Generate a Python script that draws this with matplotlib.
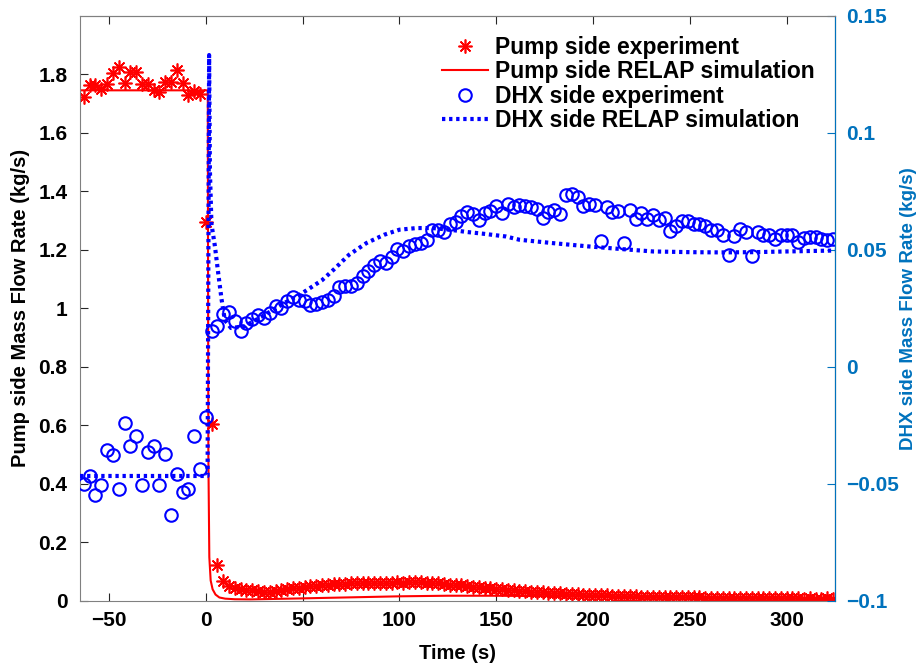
import numpy as np
import matplotlib.pyplot as plt

plt.rcParams['font.family'] = ['Liberation Sans', 'DejaVu Sans']
plt.rcParams['font.weight'] = 'bold'
plt.rcParams['axes.labelweight'] = 'bold'

# Pump side experiment (left axis, kg/s), samples every 3 s
pump_t_pre = np.arange(-63, 0, 3)
pump_pre = [1.721, 1.763, 1.763, 1.749, 1.767, 1.804, 1.826, 1.770, 1.806, 1.806,
            1.767, 1.767, 1.746, 1.738, 1.772, 1.772, 1.815, 1.770, 1.730, 1.744, 1.733]
pump_t_post = np.arange(0, 325, 3)
pump_post = [1.294, 0.606, 0.123, 0.070, 0.050, 0.043, 0.040, 0.038, 0.036, 0.033,
             0.030, 0.032, 0.034, 0.037, 0.040, 0.043, 0.045, 0.048, 0.050, 0.052,
             0.054, 0.055, 0.057, 0.058, 0.059, 0.060, 0.061, 0.061, 0.062, 0.063,
             0.063, 0.062, 0.063, 0.064, 0.063, 0.065, 0.066, 0.064, 0.063, 0.061,
             0.060, 0.058, 0.056, 0.055, 0.053, 0.051, 0.049, 0.047, 0.045, 0.043,
             0.041, 0.040, 0.038, 0.036, 0.035, 0.033, 0.032, 0.031, 0.030, 0.028,
             0.027, 0.026, 0.025, 0.024, 0.023, 0.022, 0.021, 0.020, 0.020, 0.019,
             0.018, 0.018, 0.017, 0.016, 0.016, 0.015, 0.015, 0.014, 0.014, 0.013,
             0.013, 0.013, 0.012, 0.012, 0.012, 0.012, 0.011, 0.011, 0.011, 0.011,
             0.011, 0.010, 0.010, 0.010, 0.010, 0.010, 0.010, 0.009, 0.010, 0.009,
             0.009, 0.009, 0.009, 0.008, 0.009, 0.008, 0.008, 0.009, 0.008]

# Pump side RELAP simulation
pump_sim_t = [-65, 1.0, 1.3, 1.8, 2.5, 3.5, 5, 7, 10, 15, 23, 35, 50, 75, 100, 125,
              150, 200, 250, 300, 325]
pump_sim = [1.745, 1.745, 0.5, 0.15, 0.07, 0.04, 0.022, 0.012, 0.008, 0.006, 0.0055,
            0.007, 0.009, 0.0125, 0.016, 0.018, 0.018, 0.015, 0.012, 0.009, 0.008]

# DHX side experiment (right axis, kg/s)
dhx_t = np.arange(-63, 325, 3)
dhx_exp = [-0.0499, -0.0467, -0.0549, -0.0503, -0.0353, -0.0378, -0.0520, -0.0239,
           -0.0339, -0.0296, -0.0506, -0.0363, -0.0336, -0.0503, -0.0374, -0.0631,
           -0.0456, -0.0535, -0.0520, -0.0296, -0.0438, -0.0215,
           0.0152, 0.0173, 0.0227, 0.0233, 0.0195, 0.0152, 0.0188, 0.0205, 0.0223,
           0.0209, 0.0230, 0.0259, 0.0252, 0.0280, 0.0299, 0.0287, 0.0280, 0.0266,
           0.0270, 0.0276, 0.0287, 0.0301, 0.0341, 0.0344, 0.0347, 0.0358, 0.0387,
           0.0408, 0.0436, 0.0451, 0.0444, 0.0469, 0.0503, 0.0493, 0.0515, 0.0526,
           0.0529, 0.0540, 0.0586, 0.0583, 0.0574, 0.0611, 0.0617, 0.0646, 0.0660,
           0.0654, 0.0628, 0.0657, 0.0664, 0.0688, 0.0657, 0.0697, 0.0685, 0.0692,
           0.0688, 0.0685, 0.0674, 0.0636, 0.0660, 0.0671, 0.0654, 0.0735, 0.0739,
           0.0725, 0.0688, 0.0697, 0.0692, 0.0536, 0.0683, 0.0660, 0.0664, 0.0529,
           0.0671, 0.0633, 0.0657, 0.0631, 0.0650, 0.0628, 0.0636, 0.0579, 0.0603,
           0.0625, 0.0621, 0.0610, 0.0610, 0.0603, 0.0583, 0.0583, 0.0564, 0.0479,
           0.0557, 0.0589, 0.0574, 0.0472, 0.0574, 0.0564, 0.0564, 0.0546, 0.0564,
           0.0564, 0.0564, 0.0532, 0.0550, 0.0555, 0.0555, 0.0546, 0.0543, 0.0546]

# DHX side RELAP simulation
dhx_sim_t = [-65, 0.9, 1.7, 2.1, 2.9, 4.7, 6.4, 8.1, 9.8, 13, 20, 30, 40, 50, 60, 66,
             74, 83, 92, 100, 109, 117, 126, 135, 143, 155, 162, 180, 197, 215, 231,
             250, 266, 283, 300, 325]
dhx_sim = [-0.0466, -0.0466, 0.1332, 0.084, 0.061, 0.0515, 0.040, 0.029, 0.020,
           0.0166, 0.0173, 0.022, 0.027, 0.0316, 0.037, 0.0415, 0.0479, 0.0529,
           0.0564, 0.0586, 0.0593, 0.0593, 0.0586, 0.0576, 0.0569, 0.0557, 0.0543,
           0.0528, 0.0515, 0.0503, 0.0493, 0.0490, 0.0489, 0.0490, 0.0493, 0.0497]

x_ticks = [-50, 0, 50, 100, 150, 200, 250, 300]
left_ticks = [0, 0.2, 0.4, 0.6, 0.8, 1, 1.2, 1.4, 1.6, 1.8]
left_labels = ['0', '0.2', '0.4', '0.6', '0.8', '1', '1.2', '1.4', '1.6', '1.8']
right_ticks = [-0.1, -0.05, 0, 0.05, 0.1, 0.15]
right_labels = ['\u22120.1', '\u22120.05', '0', '0.05', '0.1', '0.15']

matlab_blue = '#0072BD'
axis_gray = '#262626'

fig = plt.figure(figsize=(9.2, 6.68), dpi=100)
ax = fig.add_axes([80 / 920, 1 - 601 / 668, 755 / 920, 585.3 / 668])
ax2 = ax.twinx()

star = (8, 2, 0)
h1, = ax.plot(np.concatenate([pump_t_pre, pump_t_post]), pump_pre + pump_post,
              linestyle='none', marker=star, color='red', markersize=10, mew=1.2)
h2, = ax.plot(pump_sim_t, pump_sim, color='red', lw=1.5)
h3, = ax2.plot(dhx_t, dhx_exp, linestyle='none', marker='o', mfc='none', mec='blue',
               markersize=9, mew=1.5)
h4, = ax2.plot(dhx_sim_t, dhx_sim, color='blue', lw=3, linestyle=(0, (0.8, 0.9)))

ax.set_xlim(-65, 325)
ax.set_ylim(0, 2)
ax2.set_ylim(-0.1, 0.15)
ax.set_xticks(x_ticks)
ax.set_xticklabels([str(v).replace('-', '\u2212') for v in x_ticks])
ax.set_yticks(left_ticks)
ax.set_yticklabels(left_labels)
ax2.set_yticks(right_ticks)
ax2.set_yticklabels(right_labels)

ax.tick_params(direction='in', labelsize=15, length=6, color=axis_gray, top=True,
               labelcolor='black')
ax.tick_params(axis='y', pad=9)
ax.tick_params(axis='x', pad=7)
ax2.tick_params(direction='in', labelsize=15, length=6, colors=matlab_blue, pad=8)
for s in ['left', 'bottom', 'top']:
    ax.spines[s].set_color('#808080')
ax2.spines['right'].set_color(matlab_blue)
ax2.spines['left'].set_visible(False)
ax2.spines['top'].set_color('#808080')
ax2.spines['bottom'].set_visible(False)

ax.set_xlabel('Time (s)', fontsize=14.5, fontweight='bold', labelpad=10)
ax.set_ylabel('Pump side Mass Flow Rate (kg/s)', fontsize=14.5, fontweight='bold',
              labelpad=6)
ax2.set_ylabel('DHX side Mass Flow Rate (kg/s)', fontsize=13.5, fontweight='bold',
               color=matlab_blue, labelpad=1)

leg = ax2.legend([h1, h2, h3, h4],
                 ['Pump side experiment', 'Pump side RELAP simulation',
                  'DHX side experiment', 'DHX side RELAP simulation'],
                 loc='upper right', bbox_to_anchor=(1.0, 1.0), frameon=False,
                 prop={'size': 16.5, 'weight': 'bold'}, handlelength=2.0,
                 labelspacing=0.05, handletextpad=0.3, borderaxespad=0.5)

fig.savefig('out.png', dpi=100)
